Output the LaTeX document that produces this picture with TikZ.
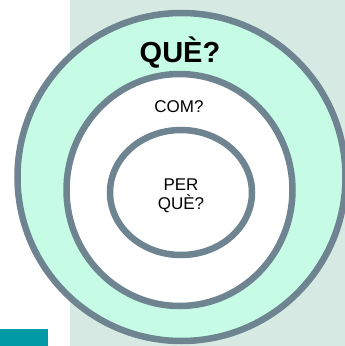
\documentclass[tikz,border=0pt]{standalone}
\usepackage{fontspec}
\setmainfont{Liberation Sans}
\usetikzlibrary{shapes.geometric}
\definecolor{bgbox}{HTML}{D6EAE3}
\definecolor{mint}{HTML}{C6FCE5}
\definecolor{ringc}{HTML}{6E8591}
\definecolor{tealc}{HTML}{009AA6}
\begin{document}
\begin{tikzpicture}[x=1pt,y=-1pt,
  ring/.style={draw=ringc,line width=6.5pt},
  lbl/.style={inner sep=0pt,align=center,text=black}]
\useasboundingbox (0,0) rectangle (345,346);
\begin{scope}
\clip (0,0) rectangle (345,346);
\fill[bgbox] (70,0) rectangle (345,346);
\fill[tealc] (0,329) rectangle (48,346);
\node[ring,fill=mint,circle,minimum size=328pt,inner sep=0pt] (outer) at (181.5,177) {};
\node[ring,fill=white,ellipse,minimum width=226pt,minimum height=232pt,inner sep=0pt] (middle) at (179.5,190) {};
\node[ring,fill=white,ellipse,minimum width=142pt,minimum height=125pt,inner sep=0pt] (inner) at (181,192.5) {};
\end{scope}
\node[lbl,font=\fontsize{29}{32}\selectfont\bfseries] (que) at (180,52) {QUÈ?};
\node[lbl,font=\fontsize{17}{19}\selectfont] (com) at (179,107) {COM?};
\node[lbl,font=\fontsize{17}{19}\selectfont] (perque) at (181,196) {PER\\QUÈ?};
\end{tikzpicture}
\end{document}
